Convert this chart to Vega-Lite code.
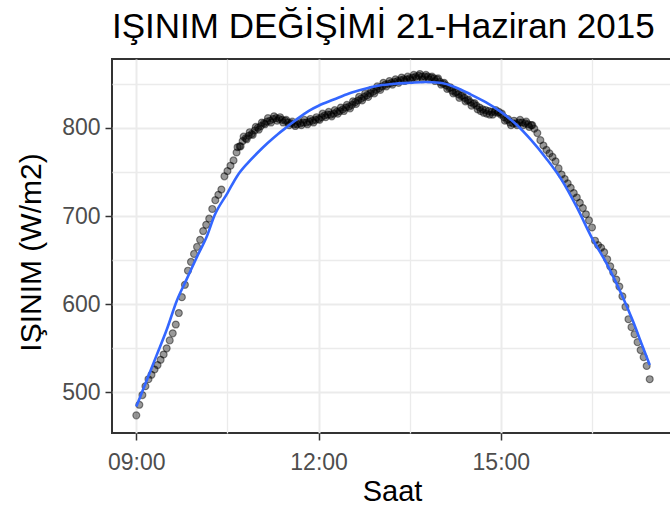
{
  "$schema": "https://vega.github.io/schema/vega-lite/v6.json",
  "autosize": {"type": "none"},
  "padding": {"left": 112, "top": 59, "right": 0, "bottom": 80},
  "width": 560,
  "height": 374,
  "background": "white",
  "title": {"text": "IŞINIM DEĞİŞİMİ 21-Haziran 2015", "anchor": "start", "frame": "group", "font": "Liberation Sans", "fontSize": 35, "fontWeight": "normal", "color": "black", "offset": 14},
  "config": {
    "view": {"stroke": "#333333", "strokeWidth": 2},
    "axis": {
      "labelFont": "Liberation Sans", "labelFontSize": 23, "labelColor": "#4D4D4D",
      "titleFont": "Liberation Sans", "titleFontSize": 29, "titleFontWeight": "normal", "titleColor": "black",
      "domain": false, "gridColor": "#EBEBEB", "tickWidth": 1.5, "tickSize": 7
    }
  },
  "datasets": {
    "olcum": [
      {"saat":"09:00","isinim":474},{"saat":"09:03","isinim":486},{"saat":"09:06","isinim":497},{"saat":"09:09","isinim":507},{"saat":"09:12","isinim":515},{"saat":"09:15","isinim":520},{"saat":"09:18","isinim":526},{"saat":"09:21","isinim":531},{"saat":"09:24","isinim":537},{"saat":"09:27","isinim":543},
      {"saat":"09:30","isinim":550},{"saat":"09:33","isinim":559},{"saat":"09:36","isinim":567},{"saat":"09:39","isinim":577},{"saat":"09:42","isinim":590},{"saat":"09:45","isinim":608},{"saat":"09:48","isinim":622},{"saat":"09:51","isinim":638},{"saat":"09:54","isinim":648},{"saat":"09:57","isinim":657},
      {"saat":"10:00","isinim":665},{"saat":"10:03","isinim":673},{"saat":"10:06","isinim":683},{"saat":"10:09","isinim":690},{"saat":"10:12","isinim":697},{"saat":"10:15","isinim":708},{"saat":"10:18","isinim":718},{"saat":"10:21","isinim":724},{"saat":"10:24","isinim":730},{"saat":"10:27","isinim":745},
      {"saat":"10:30","isinim":751},{"saat":"10:33","isinim":757},{"saat":"10:36","isinim":763},{"saat":"10:39","isinim":772},{"saat":"10:42","isinim":779},{"saat":"10:45","isinim":785},{"saat":"10:48","isinim":788},{"saat":"10:51","isinim":791},{"saat":"10:54","isinim":793},{"saat":"10:57","isinim":797},
      {"saat":"11:00","isinim":800},{"saat":"11:03","isinim":802},{"saat":"11:06","isinim":805},{"saat":"11:09","isinim":807},{"saat":"11:12","isinim":808},{"saat":"11:15","isinim":810},{"saat":"11:18","isinim":811},{"saat":"11:21","isinim":810},{"saat":"11:24","isinim":809},{"saat":"11:27","isinim":808},
      {"saat":"11:30","isinim":806},{"saat":"11:33","isinim":805},{"saat":"11:36","isinim":804},{"saat":"11:39","isinim":804},{"saat":"11:42","isinim":805},{"saat":"11:45","isinim":806},{"saat":"11:48","isinim":806},{"saat":"11:51","isinim":807},{"saat":"11:54","isinim":808},{"saat":"11:57","isinim":809},
      {"saat":"12:00","isinim":810},{"saat":"12:03","isinim":812},{"saat":"12:06","isinim":814},{"saat":"12:09","isinim":815},{"saat":"12:12","isinim":815},{"saat":"12:15","isinim":816},{"saat":"12:18","isinim":818},{"saat":"12:21","isinim":819},{"saat":"12:24","isinim":821},{"saat":"12:27","isinim":823},
      {"saat":"12:30","isinim":824},{"saat":"12:33","isinim":826},{"saat":"12:36","isinim":829},{"saat":"12:39","isinim":831},{"saat":"12:42","isinim":833},{"saat":"12:45","isinim":835},{"saat":"12:48","isinim":837},{"saat":"12:51","isinim":839},{"saat":"12:54","isinim":841},{"saat":"12:57","isinim":843},
      {"saat":"13:00","isinim":845},{"saat":"13:03","isinim":847},{"saat":"13:06","isinim":849},{"saat":"13:09","isinim":850},{"saat":"13:12","isinim":851},{"saat":"13:15","isinim":852},{"saat":"13:18","isinim":853},{"saat":"13:21","isinim":854},{"saat":"13:24","isinim":855},{"saat":"13:27","isinim":855},
      {"saat":"13:30","isinim":856},{"saat":"13:33","isinim":857},{"saat":"13:36","isinim":858},{"saat":"13:39","isinim":859},{"saat":"13:42","isinim":858},{"saat":"13:45","isinim":858},{"saat":"13:48","isinim":858},{"saat":"13:51","isinim":857},{"saat":"13:54","isinim":856},{"saat":"13:57","isinim":855},
      {"saat":"14:00","isinim":852},{"saat":"14:03","isinim":850},{"saat":"14:06","isinim":848},{"saat":"14:09","isinim":845},{"saat":"14:12","isinim":842},{"saat":"14:15","isinim":840},{"saat":"14:18","isinim":838},{"saat":"14:21","isinim":836},{"saat":"14:24","isinim":834},{"saat":"14:27","isinim":831},
      {"saat":"14:30","isinim":829},{"saat":"14:33","isinim":827},{"saat":"14:36","isinim":825},{"saat":"14:39","isinim":823},{"saat":"14:42","isinim":821},{"saat":"14:45","isinim":820},{"saat":"14:48","isinim":819},{"saat":"14:51","isinim":818},{"saat":"14:54","isinim":818},{"saat":"14:57","isinim":817},
      {"saat":"15:00","isinim":815},{"saat":"15:03","isinim":812},{"saat":"15:06","isinim":809},{"saat":"15:09","isinim":806},{"saat":"15:12","isinim":805},{"saat":"15:15","isinim":805},{"saat":"15:18","isinim":806},{"saat":"15:21","isinim":806},{"saat":"15:24","isinim":805},{"saat":"15:27","isinim":804},
      {"saat":"15:30","isinim":803},{"saat":"15:33","isinim":799},{"saat":"15:36","isinim":794},{"saat":"15:39","isinim":786},{"saat":"15:42","isinim":780},{"saat":"15:45","isinim":775},{"saat":"15:48","isinim":771},{"saat":"15:51","isinim":767},{"saat":"15:54","isinim":762},{"saat":"15:57","isinim":754},
      {"saat":"16:00","isinim":747},{"saat":"16:03","isinim":742},{"saat":"16:06","isinim":737},{"saat":"16:09","isinim":732},{"saat":"16:12","isinim":726},{"saat":"16:15","isinim":721},{"saat":"16:18","isinim":715},{"saat":"16:21","isinim":709},{"saat":"16:24","isinim":702},{"saat":"16:27","isinim":695},
      {"saat":"16:30","isinim":687},{"saat":"16:33","isinim":672},{"saat":"16:36","isinim":667},{"saat":"16:39","isinim":664},{"saat":"16:42","isinim":659},{"saat":"16:45","isinim":651},{"saat":"16:48","isinim":643},{"saat":"16:51","isinim":636},{"saat":"16:54","isinim":628},{"saat":"16:57","isinim":620},
      {"saat":"17:00","isinim":609},{"saat":"17:03","isinim":597},{"saat":"17:06","isinim":583},{"saat":"17:09","isinim":574},{"saat":"17:12","isinim":566},{"saat":"17:15","isinim":557},{"saat":"17:18","isinim":548},{"saat":"17:21","isinim":540},{"saat":"17:24","isinim":530},{"saat":"17:27","isinim":515},
      {"saat":"10:40","isinim":778},{"saat":"10:43","isinim":779},{"saat":"10:46","isinim":790},{"saat":"10:49","isinim":787},{"saat":"10:52","isinim":795},{"saat":"10:55","isinim":792},{"saat":"10:58","isinim":801},
      {"saat":"11:01","isinim":798},{"saat":"11:04","isinim":806},{"saat":"11:07","isinim":804},{"saat":"11:10","isinim":811},{"saat":"11:13","isinim":806},{"saat":"11:16","isinim":813},{"saat":"11:19","isinim":808},{"saat":"11:22","isinim":812},{"saat":"11:25","isinim":806},{"saat":"11:28","isinim":809},
      {"saat":"11:31","isinim":803},{"saat":"11:34","isinim":807},{"saat":"11:37","isinim":802},{"saat":"11:40","isinim":807},{"saat":"11:43","isinim":803},{"saat":"11:46","isinim":809},{"saat":"11:49","isinim":804},{"saat":"11:52","isinim":810},{"saat":"11:55","isinim":806},{"saat":"11:58","isinim":812},
      {"saat":"12:01","isinim":809},{"saat":"12:04","isinim":816},{"saat":"12:07","isinim":812},{"saat":"12:10","isinim":818},{"saat":"12:13","isinim":813},{"saat":"12:16","isinim":820},{"saat":"12:19","isinim":816},{"saat":"12:22","isinim":823},{"saat":"12:25","isinim":819},{"saat":"12:28","isinim":826},
      {"saat":"12:31","isinim":822},{"saat":"12:34","isinim":830},{"saat":"12:37","isinim":827},{"saat":"12:40","isinim":835},{"saat":"12:43","isinim":831},{"saat":"12:46","isinim":839},{"saat":"12:49","isinim":835},{"saat":"12:52","isinim":843},{"saat":"12:55","isinim":839},{"saat":"12:58","isinim":847},
      {"saat":"13:01","isinim":843},{"saat":"13:04","isinim":851},{"saat":"13:07","isinim":847},{"saat":"13:10","isinim":853},{"saat":"13:13","isinim":849},{"saat":"13:16","isinim":855},{"saat":"13:19","isinim":851},{"saat":"13:22","isinim":857},{"saat":"13:25","isinim":853},{"saat":"13:28","isinim":858},
      {"saat":"13:31","isinim":854},{"saat":"13:34","isinim":860},{"saat":"13:37","isinim":856},{"saat":"13:40","isinim":861},{"saat":"13:43","isinim":855},{"saat":"13:46","isinim":860},{"saat":"13:49","isinim":855},{"saat":"13:52","isinim":858},{"saat":"13:55","isinim":853},{"saat":"13:58","isinim":856},
      {"saat":"14:01","isinim":849},{"saat":"14:04","isinim":851},{"saat":"14:07","isinim":844},{"saat":"14:10","isinim":846},{"saat":"14:13","isinim":839},{"saat":"14:16","isinim":841},{"saat":"14:19","isinim":834},{"saat":"14:22","isinim":837},{"saat":"14:25","isinim":830},{"saat":"14:28","isinim":832},
      {"saat":"14:31","isinim":825},{"saat":"14:34","isinim":828},{"saat":"14:37","isinim":821},{"saat":"14:40","isinim":819},{"saat":"14:43","isinim":817},{"saat":"14:46","isinim":816},{"saat":"14:49","isinim":815},{"saat":"14:52","isinim":815},{"saat":"14:55","isinim":820},{"saat":"14:58","isinim":818},
      {"saat":"15:01","isinim":816},{"saat":"15:04","isinim":808},{"saat":"15:07","isinim":810},{"saat":"15:10","isinim":803},{"saat":"15:13","isinim":808},{"saat":"15:16","isinim":803},{"saat":"15:19","isinim":809},{"saat":"15:22","isinim":803},{"saat":"15:25","isinim":807},{"saat":"15:28","isinim":801},{"saat":"15:31","isinim":803}
    ],
    "egri": [
      {"saat":"09:00","isinim":484},{"saat":"09:10","isinim":513},{"saat":"09:20","isinim":542},{"saat":"09:30","isinim":571},{"saat":"09:40","isinim":604},{"saat":"09:50","isinim":629},
      {"saat":"10:00","isinim":654},{"saat":"10:10","isinim":678},{"saat":"10:17","isinim":700},{"saat":"10:30","isinim":726},{"saat":"10:40","isinim":746},{"saat":"10:50","isinim":760},
      {"saat":"11:00","isinim":772},{"saat":"11:10","isinim":783},{"saat":"11:20","isinim":793},{"saat":"11:30","isinim":802},{"saat":"11:40","isinim":811},{"saat":"11:50","isinim":819},
      {"saat":"12:00","isinim":825},{"saat":"12:15","isinim":832},{"saat":"12:30","isinim":839},{"saat":"12:45","isinim":844},{"saat":"13:00","isinim":848},{"saat":"13:15","isinim":850},
      {"saat":"13:30","isinim":851},{"saat":"13:45","isinim":852},{"saat":"14:00","isinim":851},{"saat":"14:15","isinim":846},{"saat":"14:30","isinim":838},{"saat":"14:45","isinim":829},
      {"saat":"15:00","isinim":818},{"saat":"15:15","isinim":804},{"saat":"15:30","isinim":786},{"saat":"15:45","isinim":765},{"saat":"16:00","isinim":741},{"saat":"16:15","isinim":710},
      {"saat":"16:30","isinim":675},{"saat":"16:45","isinim":645},{"saat":"17:00","isinim":609},{"saat":"17:10","isinim":582},{"saat":"17:20","isinim":552},{"saat":"17:27","isinim":531}
    ]
  },
  "layer": [
    {
      "data": {"name": "olcum", "format": {"parse": {"saat": "date:'%H:%M'"}}},
      "mark": {"type": "point", "filled": true, "fill": "black", "fillOpacity": 0.4, "stroke": "black", "strokeOpacity": 0.45, "strokeWidth": 1.2, "size": 48, "shape": "circle"},
      "encoding": {
        "x": {"field": "saat", "type": "temporal", "title": "Saat",
          "scale": {"domain": [{"year": 1900, "month": 1, "date": 1, "hours": 8, "minutes": 36}, {"year": 1900, "month": 1, "date": 1, "hours": 17, "minutes": 49}]},
          "axis": {
            "values": [{"year": 1900, "month": 1, "date": 1, "hours": 9}, {"year": 1900, "month": 1, "date": 1, "hours": 10, "minutes": 30}, {"year": 1900, "month": 1, "date": 1, "hours": 12}, {"year": 1900, "month": 1, "date": 1, "hours": 13, "minutes": 30}, {"year": 1900, "month": 1, "date": 1, "hours": 15}, {"year": 1900, "month": 1, "date": 1, "hours": 16, "minutes": 30}],
            "labelExpr": "minutes(datum.value) == 0 ? timeFormat(datum.value, '%H:%M') : ''",
            "labelPadding": 11,
            "tickColor": {"condition": {"test": "minutes(datum.value) == 0", "value": "#333333"}, "value": "transparent"},
            "gridWidth": {"condition": {"test": "minutes(datum.value) == 0", "value": 2}, "value": 1.3},
            "titlePadding": 3
          }
        },
        "y": {"field": "isinim", "type": "quantitative", "title": "IŞINIM (W/m2)",
          "scale": {"domain": [454, 878], "nice": false, "zero": false},
          "axis": {
            "values": [500, 550, 600, 650, 700, 750, 800, 850],
            "labelExpr": "datum.value % 100 == 0 ? datum.label : ''",
            "labelPadding": 5,
            "tickColor": {"condition": {"test": "datum.value % 100 == 0", "value": "#333333"}, "value": "transparent"},
            "gridWidth": {"condition": {"test": "datum.value % 100 == 0", "value": 2}, "value": 1.3},
            "titlePadding": 15,
            "titleFontSize": 30,
            "titleY": 193
          }
        }
      }
    },
    {
      "data": {"name": "egri", "format": {"parse": {"saat": "date:'%H:%M'"}}},
      "mark": {"type": "line", "color": "#3366FF", "strokeWidth": 2.6, "interpolate": "monotone"},
      "encoding": {
        "x": {"field": "saat", "type": "temporal"},
        "y": {"field": "isinim", "type": "quantitative"}
      }
    }
  ]
}
